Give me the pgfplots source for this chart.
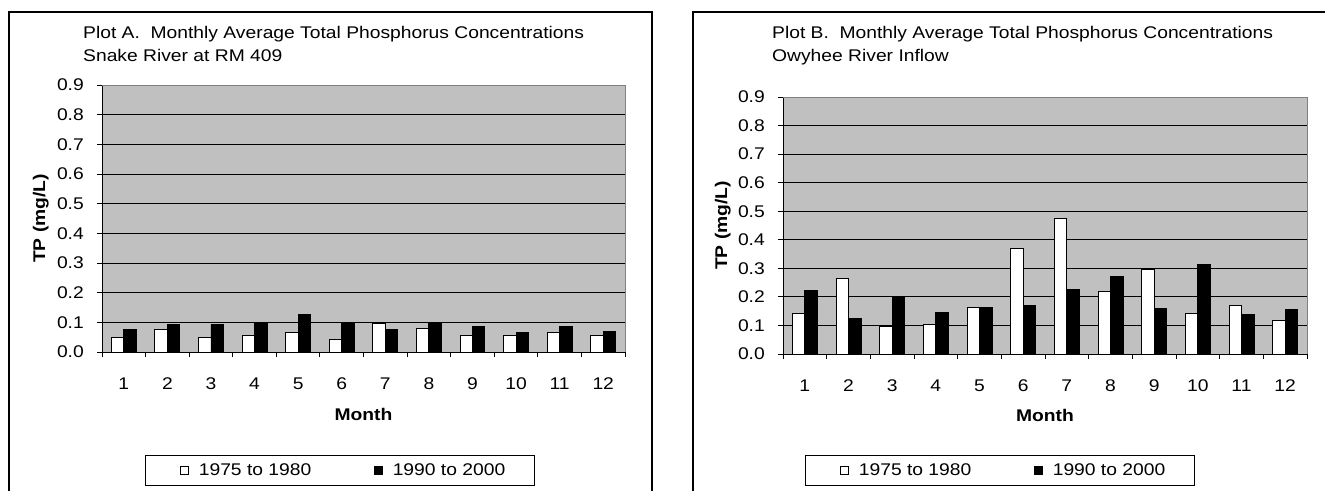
\documentclass[border=0pt]{standalone}
\usepackage{fontspec}
\setmainfont{Liberation Sans}[FakeStretch=1.14]
\usepackage{pgfplots}
\pgfplotsset{compat=1.18}
\usepackage{pgfplotstable}
\frenchspacing
\newcommand\F{\fontsize{16.9}{23}\selectfont}
\definecolor{bgray}{RGB}{192,192,192}
\definecolor{mgray}{RGB}{128,128,128}

\pgfplotstableread{
m a b
1 0.050 0.075
2 0.075 0.092
3 0.050 0.092
4 0.055 0.098
5 0.066 0.126
6 0.041 0.100
7 0.095 0.075
8 0.080 0.098
9 0.055 0.086
10 0.055 0.066
11 0.066 0.086
12 0.055 0.070
}\dataA

\pgfplotstableread{
m a b
1 0.143 0.223
2 0.263 0.125
3 0.097 0.198
4 0.103 0.144
5 0.164 0.164
6 0.370 0.171
7 0.474 0.227
8 0.220 0.273
9 0.297 0.161
10 0.143 0.314
11 0.169 0.140
12 0.117 0.155
}\dataB

\pgfplotsset{
  panel/.style={
    scale only axis, anchor=south west,
    xmin=0.5, xmax=12.5, ymin=0, ymax=0.9,
    ybar=0pt, bar width=12.46pt,
    axis background/.style={fill=bgray, draw=mgray, line width=1pt},
    axis x line*=bottom, axis y line*=left,
    axis line style={black, line width=1pt},
    tick align=outside, major tick length=5pt,
    tick style={black, line width=1pt},
    xtick={0.5,1.5,2.5,3.5,4.5,5.5,6.5,7.5,8.5,9.5,10.5,11.5,12.5},
    xticklabels={1,2,3,4,5,6,7,8,9,10,11,12,{}},
    ytick={0,0.1,0.2,0.3,0.4,0.5,0.6,0.7,0.8,0.9},
    yticklabels={0.0,0.1,0.2,0.3,0.4,0.5,0.6,0.7,0.8,0.9},
    xticklabel style={font=\F, anchor=base, inner sep=0pt, xshift=21.8pt, yshift=-32pt},
    yticklabel style={font=\F, anchor=east, inner sep=0pt, xshift=-13pt},
    ymajorgrids, major grid style={black, line width=0.9pt},
    after end axis/.code={\draw[mgray, line width=1pt] (rel axis cs:0,1) -- (rel axis cs:1,1) -- (rel axis cs:1,0);},
    xlabel={Month}, ylabel={TP (mg/L)},
    label style={font=\F\bfseries},
    title style={font=\F, anchor=north west, align=left, inner sep=0pt},
    legend columns=2,
    legend style={font=\F, draw=black, line width=0.8pt, anchor=north west,
      inner xsep=27pt, inner ysep=6.2pt,
      /tikz/every odd column/.append style={column sep=8pt},
      /tikz/every even column/.append style={column sep=53pt}},
  },
  sq/.style={legend image code/.code={\path (0pt,0pt); \draw[##1,/tikz/.cd,line width=0.8pt] (8pt,-3.8pt) rectangle (15.6pt,3.8pt);}},
  wbar/.style={fill=white, draw=black, line width=0.9pt, sq},
  kbar/.style={fill=black, draw=black, line width=0.9pt, sq},
}

\begin{document}
\begin{tikzpicture}
\useasboundingbox (0,0) rectangle (1325pt,491pt);
\draw[line width=1.5pt] (9pt,0pt) -- (9pt,479pt) -- (652pt,479pt) -- (652pt,0pt);
\draw[line width=1.5pt] (693pt,0pt) -- (693pt,479pt) -- (1326pt,479pt);

\begin{axis}[panel, at={(102pt,139pt)}, width=523pt, height=267pt,
  title={Plot A.~~Monthly Average Total Phosphorus Concentrations\\Snake River at RM 409},
  title style={at={(axis description cs:-0.0363,1.1989)}},
  ylabel style={at={(axis description cs:-0.117,0.5)}, anchor=center},
  xlabel style={at={(axis description cs:0.5,-0.2547)}, anchor=base},
  legend style={at={(axis description cs:0.0822,-0.3858)}},
]
\addplot[wbar] table[x=m, y=a] {\dataA};
\addplot[kbar] table[x=m, y=b] {\dataA};
\legend{1975 to 1980, 1990 to 2000}
\end{axis}

\begin{axis}[panel, at={(783pt,137pt)}, width=524pt, height=257pt,
  title={Plot B.~~Monthly Average Total Phosphorus Concentrations\\Owyhee River Inflow},
  title style={at={(axis description cs:-0.021,1.2533)}},
  ylabel style={at={(axis description cs:-0.115,0.5)}, anchor=center},
  xlabel style={at={(axis description cs:0.5,-0.2607)}, anchor=base},
  legend style={at={(axis description cs:0.042,-0.393)}},
]
\addplot[wbar] table[x=m, y=a] {\dataB};
\addplot[kbar] table[x=m, y=b] {\dataB};
\legend{1975 to 1980, 1990 to 2000}
\end{axis}
\end{tikzpicture}
\end{document}
